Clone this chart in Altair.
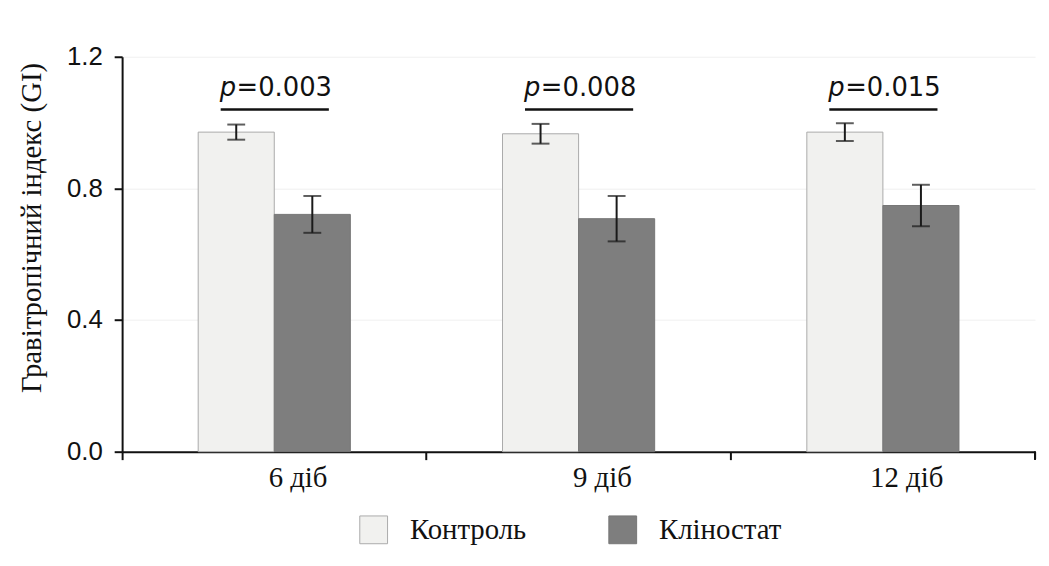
import altair as alt
import pandas as pd

groups = ["6 діб", "9 діб", "12 діб"]
series = ["Контроль", "Кліностат"]
control = [0.971, 0.966, 0.971]
control_err = [0.023, 0.030, 0.027]
klino = [0.721, 0.708, 0.748]
klino_err = [0.056, 0.069, 0.063]
p_texts = ["=0.003", "=0.008", "=0.015"]
y_ticks = [0.0, 0.4, 0.8, 1.2]

rows = []
for g, c, ce, k, ke in zip(groups, control, control_err, klino, klino_err):
    rows.append({"group": g, "series": series[0], "value": c, "lo": c - ce, "hi": c + ce})
    rows.append({"group": g, "series": series[1], "value": k, "lo": k - ke, "hi": k + ke})
df = pd.DataFrame(rows)
pdf = pd.DataFrame({"group": groups, "ptext": p_texts, "p": ["p"] * 3,
                    "ty": [1.081] * 3, "ly": [1.04] * 3})

W, H = 920, 398
serif = "Liberation Serif"
sans = "DejaVu Sans"
tick_font = "Liberation Sans"

xscale = alt.Scale(domain=groups, paddingInner=0, paddingOuter=0)
yscale = alt.Scale(domain=[0, 1.2], nice=False)
xoff = alt.XOffset("series:N", sort=series, scale=alt.Scale(domain=series, paddingOuter=1, paddingInner=0))

x_enc = alt.X("group:N", sort=groups, scale=xscale,
              axis=alt.Axis(title=None, bandPosition=0, labelOffset=24, labelAngle=0,
                            labelFont=serif, labelFontSize=29, labelColor="#111",
                            labelPadding=4, tickSize=8, tickWidth=2, tickColor="#111",
                            domainColor="#111", domainWidth=2, grid=False))

legend_opts = dict(title=None, orient="none", legendX=239, legendY=462,
                   direction="horizontal", symbolType="square",
                   symbolSize=784, symbolStrokeWidth=1,
                   labelFont=serif, labelFontSize=29, labelColor="#111",
                   labelOffset=22, columnPadding=80)

base = alt.Chart(df)

bars = base.mark_bar(strokeWidth=1).encode(
    x=x_enc,
    xOffset=xoff,
    y=alt.Y("value:Q", scale=yscale,
            axis=alt.Axis(title="Гравітропічний індекс (GI)", values=y_ticks, format=".1f",
                          labelFont=tick_font, labelFontSize=26, labelColor="#111", labelPadding=12,
                          tickSize=8, tickWidth=2, tickColor="#111",
                          domainColor="#111", domainWidth=2,
                          grid=True, gridColor="#f0f0f0", gridWidth=1,
                          titleFont=serif, titleFontSize=29, titleFontWeight="normal",
                          titleColor="#111", titleY=172, titlePadding=20)),
    fill=alt.Fill("series:N", sort=series,
                  scale=alt.Scale(domain=series, range=["#f1f1ef", "#7e7e7e"]),
                  legend=alt.Legend(**legend_opts)),
    stroke=alt.Stroke("series:N", sort=series,
                      scale=alt.Scale(domain=series, range=["#aaaaaa", "#767676"]),
                      legend=alt.Legend(**legend_opts)),
)

err_rule = base.mark_rule(color="#1a1a1a", strokeWidth=2).encode(
    x=alt.X("group:N", sort=groups, scale=xscale),
    xOffset=xoff,
    y=alt.Y("lo:Q", scale=yscale),
    y2="hi:Q",
)
tick_hi = base.mark_tick(color="#1a1a1a", size=18, thickness=2).encode(
    x=alt.X("group:N", sort=groups, scale=xscale),
    xOffset=xoff,
    y=alt.Y("hi:Q", scale=yscale),
)
tick_lo = base.mark_tick(color="#1a1a1a", size=18, thickness=2).encode(
    x=alt.X("group:N", sort=groups, scale=xscale),
    xOffset=xoff,
    y=alt.Y("lo:Q", scale=yscale),
)

pbase = alt.Chart(pdf)
p_italic = pbase.mark_text(font=sans, fontSize=26, fontStyle="italic", align="left",
                           baseline="alphabetic", dx=-55, color="#111").encode(
    x=alt.X("group:N", sort=groups, scale=xscale),
    y=alt.Y("ty:Q", scale=yscale),
    text="p:N",
)
p_rest = pbase.mark_text(font=sans, fontSize=26, align="left",
                         baseline="alphabetic", dx=-38, color="#111").encode(
    x=alt.X("group:N", sort=groups, scale=xscale),
    y=alt.Y("ty:Q", scale=yscale),
    text="ptext:N",
)
p_line = pbase.mark_rule(color="#111", strokeWidth=2.5, xOffset=-54, x2Offset=55).encode(
    x=alt.X("group:N", sort=groups, scale=xscale),
    x2="group:N",
    y=alt.Y("ly:Q", scale=yscale),
)

end_tick = alt.Chart(pdf).mark_rule(color="#111", strokeWidth=2).encode(
    x=alt.value(W), y=alt.value(H), y2=alt.value(H + 8)
)

chart = alt.layer(bars, err_rule, tick_hi, tick_lo, p_line, p_italic, p_rest, end_tick).properties(
    width=W, height=H,
    autosize=alt.AutoSizeParams(type="none"),
    padding={"left": 115, "top": 47, "right": 6, "bottom": 105},
    background="white",
).configure_view(stroke=None)

chart.save("out.html", embed_options={"renderer": "svg", "actions": False})
